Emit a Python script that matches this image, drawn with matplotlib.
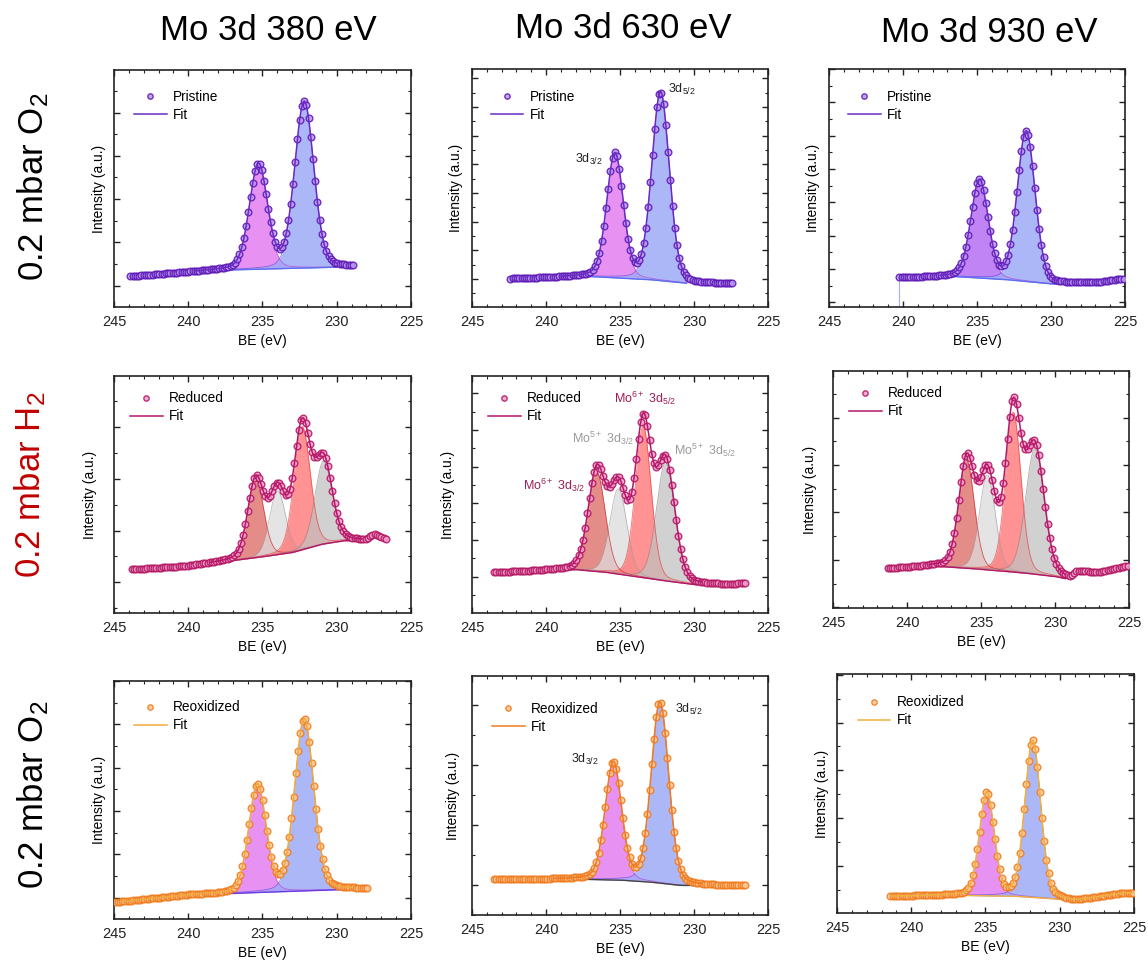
import numpy as np
import matplotlib
matplotlib.use("Agg")
import matplotlib.pyplot as plt
from matplotlib.ticker import FixedLocator, MultipleLocator

plt.rcParams['font.family'] = ['Liberation Sans', 'DejaVu Sans']
plt.rcParams['mathtext.fontset'] = 'custom'
plt.rcParams['mathtext.rm'] = 'Liberation Sans'
plt.rcParams['mathtext.it'] = 'Liberation Sans:italic'

# ---- data (intensity in fraction of axes height, BE in eV) ----
col_titles = ['Mo 3d 380 eV', 'Mo 3d 630 eV', 'Mo 3d 930 eV']
row_titles = ['0.2 mbar O$_2$', '0.2 mbar H$_2$', '0.2 mbar O$_2$']
row_title_colors = ['black', '#c00000', 'black']
states = ['Pristine', 'Reduced', 'Reoxidized']

# panel order: row by row (380, 630, 930 eV)
data_range = [(243.9, 228.8), (242.4, 227.4), (240.25, 225.1),
              (243.8, 226.7), (243.5, 226.5), (241.3, 225.1),
              (244.9, 227.85), (243.5, 226.5), (241.4, 225.05)]

fit_range = [(239.5, 230.0), (239.0, 230.5), (237.5, 229.5),
             (238.5, 228.3), (238.5, 229.5), (238.5, 229.3),
             (244.5, 229.0), (239.5, 229.5), (241.4, 225.05)]

bg_x = [[243.9, 238, 230, 228.8],
        [242.4, 237, 233, 230, 227.4],
        [240.25, 236.5, 233, 230, 227, 225.1],
        [243.8, 240, 238, 235, 233, 231, 229.5, 228, 227.5, 226.7],
        [243.5, 240, 238, 236, 234, 232, 230, 228, 226.5],
        [241.3, 238, 236, 234, 232, 230, 229, 228.5, 227, 225.1],
        [244.9, 240, 236, 230, 227.85],
        [243.5, 238, 235, 233, 231, 228, 226.5],
        [241.4, 237, 233, 230, 229, 228, 226, 225.05]]
bg_y = [[0.129, 0.155, 0.168, 0.171],
        [0.118, 0.128, 0.115, 0.097, 0.097],
        [0.122, 0.128, 0.115, 0.097, 0.100, 0.118],
        [0.183, 0.197, 0.213, 0.237, 0.255, 0.29, 0.305, 0.305, 0.33, 0.31],
        [0.17, 0.178, 0.183, 0.172, 0.154, 0.136, 0.12, 0.118, 0.122],
        [0.165, 0.176, 0.168, 0.158, 0.147, 0.133, 0.12, 0.148, 0.147, 0.175],
        [0.07, 0.10, 0.11, 0.123, 0.127],
        [0.148, 0.150, 0.146, 0.138, 0.124, 0.122, 0.124],
        [0.07, 0.074, 0.07, 0.058, 0.05, 0.06, 0.08, 0.084]]

peak_c = [[235.27, 232.19], [235.34, 232.26], [234.83, 231.68],
          [235.45, 233.99, 232.33, 230.89],
          [236.57, 235.11, 233.43, 231.92],
          [235.97, 234.57, 232.82, 231.36],
          [235.34, 232.19], [235.45, 232.30], [234.91, 231.82]]
peak_h = [[0.44, 0.70], [0.52, 0.79], [0.41, 0.63],
          [0.33, 0.27, 0.52, 0.35],
          [0.42, 0.36, 0.64, 0.50],
          [0.455, 0.40, 0.675, 0.53],
          [0.45, 0.72], [0.49, 0.755], [0.43, 0.655]]
peak_w = [[1.45, 1.52], [1.32, 1.40], [1.38, 1.42],
          [1.26, 1.26, 1.30, 1.37],
          [1.36, 1.36, 1.26, 1.45],
          [1.24, 1.26, 1.23, 1.47],
          [1.38, 1.52], [1.32, 1.40], [1.18, 1.26]]

# y tick start / step (axes fraction)
ytick_start = [0.090, 0.1176, 0.02, 0.129, 0.154, 0.203, 0.0896, 0.1255, 0.197]
ytick_step = [0.1826, 0.1204, 0.140, 0.219, 0.1545, 0.200, 0.182, 0.251, 0.200]

# ---- layout (pixels) ----
W, H = 1148, 961
boxes = [(114, 411, 70, 307), (472, 768, 69, 307), (829, 1125, 69, 307),
         (114, 411, 376, 613), (472, 768, 376, 613), (833, 1129, 371, 608),
         (114, 411, 681, 919), (472, 768, 676, 915), (837, 1134, 674, 913)]
ylab_off = [15, 16, 16, 24, 24, 23, 15, 19, 15]
leg_pos = [(0.067, 0.917), (0.063, 0.912), (0.064, 0.913),
           (0.054, 0.935), (0.054, 0.935), (0.054, 0.935),
           (0.067, 0.919), (0.068, 0.893), (0.070, 0.911)]

# ---- styles ----
mk_edge = ['#5a14b4', '#b0125f', '#f07818']
mk_face = ['#b996ee', '#f39ccb', '#fcc898']
fit_col = ['#6a2bc4', '#6a2bc4', '#6a2bc4', '#b5176a', '#b5176a', '#b5176a',
           '#f2a93b', '#f07a1e', '#efb03e']
bg_col = ['#5a6ef0', '#5a6ef0', '#5a6ef0', '#b5176a', '#b5176a', '#b5176a',
          '#6a3ae0', '#444444', '#efb03e']
two_fill = ['#e37ff2', '#9eabf6']
two_edge = ['#b040d0', '#5a4fd8']
two_fill_930 = ['#b56ff3', '#9eabf6']
four_fill = ['#dc6660', '#dcdcdc', '#ff6e6e', '#c2c2c2']
four_edge = ['#d02222', '#a0a0a0', '#e83a3a', '#8a8a8a']


def gl(x, c, h, w, m=0.18):
    t = (x - c) / w
    return h * ((1 - m) * np.exp(-4 * np.log(2) * t ** 2) + m / (1 + 4 * t ** 2))


fig = plt.figure(figsize=(W / 100, H / 100), dpi=100)

for i in range(9):
    r, c = divmod(i, 3)
    l, rr, t, b = boxes[i]
    ax = fig.add_axes([l / W, 1 - b / H, (rr - l) / W, (b - t) / H])
    bx = np.array(bg_x[i][::-1])
    by = np.array(bg_y[i][::-1])

    # measured points
    xd = np.arange(data_range[i][0], data_range[i][1] - 0.01, -0.15)
    yd = np.interp(xd, bx, by)
    for k in range(len(peak_c[i])):
        yd = yd + gl(xd, peak_c[i][k], peak_h[i][k], peak_w[i][k])

    # fit components
    xf = np.linspace(fit_range[i][0], fit_range[i][1], 400)
    bgf = np.interp(xf, bx, by)
    total = bgf.copy()
    npk = len(peak_c[i])
    if npk == 2:
        fills = two_fill_930 if c == 2 and r == 0 else two_fill
        edges = two_edge
    else:
        fills = four_fill
        edges = four_edge
    for k in range(npk):
        comp = gl(xf, peak_c[i][k], peak_h[i][k], peak_w[i][k])
        total = total + comp
        ax.fill_between(xf, bgf, bgf + comp, color=fills[k],
                        alpha=0.75 if npk == 4 else 0.85, lw=0, zorder=2)
        ax.plot(xf, bgf + comp, color=edges[k], lw=0.6,
                alpha=0.7, zorder=3)
    ax.plot(xf, bgf, color=bg_col[i], lw=1.0, zorder=3)

    if i == 2:
        ax.vlines([xd[0], xd[-1]], 0, [yd[0], yd[-1]],
                  color='#9fb2f7', lw=0.8, zorder=1)

    ax.plot(xd, yd, ls='none', marker='o', ms=4.8, mew=1.0,
            mec=mk_edge[r], mfc=mk_face[r], alpha=0.85, zorder=4,
            label=states[r])
    ax.plot(xf, total, color=fit_col[i], lw=1.1, zorder=5, label='Fit')

    ax.set_xlim(245, 225)
    ax.set_ylim(0, 1)
    ax.xaxis.set_major_locator(MultipleLocator(5))
    ax.xaxis.set_minor_locator(MultipleLocator(1))
    s0, st = ytick_start[i], ytick_step[i]
    majors = [s0 + st * k for k in range(-10, 10) if 0 <= s0 + st * k <= 1]
    minors = [s0 + st * (k + 0.5) for k in range(-10, 10)
              if 0 <= s0 + st * (k + 0.5) <= 1]
    ax.yaxis.set_major_locator(FixedLocator(majors))
    ax.yaxis.set_minor_locator(FixedLocator(minors))
    ax.tick_params(which='both', direction='in', top=True, right=True,
                   labelleft=False, labelsize=10.5, pad=5.5, colors='#222222')
    ax.tick_params(which='major', length=4.5, width=1.0)
    ax.tick_params(which='minor', length=2.5, width=0.8)
    for sp in ax.spines.values():
        sp.set_linewidth(1.2)
        sp.set_color('#222222')

    ax.set_xlabel('BE (eV)', fontsize=10)
    ax.xaxis.set_label_coords(0.5, -27 / (b - t))
    ax.set_ylabel('Intensity (a.u.)', fontsize=10)
    ax.yaxis.set_label_coords(-ylab_off[i] / (rr - l), 0.5)
    ax.yaxis.label.set_va('center')

    ax.legend(loc='upper left', bbox_to_anchor=leg_pos[i], frameon=False,
              fontsize=9.8, borderpad=0, borderaxespad=0, handlelength=2.4,
              handletextpad=0.45, labelspacing=0.3, markerscale=0.8)

    if i in (1, 7):
        if i == 1:
            p1, p2 = (237.07, 0.622), (230.84, 0.916)
        else:
            p1, p2 = (237.36, 0.651), (230.33, 0.862)
        ax.text(p1[0], p1[1], r'3d$_{\mathrm{3/2}}$', fontsize=9,
                ha='center', va='center', color='#222222')
        ax.text(p2[0], p2[1], r'3d$_{\mathrm{5/2}}$', fontsize=9,
                ha='center', va='center', color='#222222')
    if i == 4:
        ax.text(233.3, 0.906, r'Mo$^{\mathrm{6+}}$ 3d$_{\mathrm{5/2}}$',
                fontsize=9, ha='center', va='center', color='#9e1d54')
        ax.text(239.43, 0.538, r'Mo$^{\mathrm{6+}}$ 3d$_{\mathrm{3/2}}$',
                fontsize=9, ha='center', va='center', color='#9e1d54')
        ax.text(236.17, 0.737, r'Mo$^{\mathrm{5+}}$ 3d$_{\mathrm{3/2}}$',
                fontsize=9, ha='center', va='center', color='#9a9a9a')
        ax.text(229.27, 0.688, r'Mo$^{\mathrm{5+}}$ 3d$_{\mathrm{5/2}}$',
                fontsize=9, ha='center', va='center', color='#9a9a9a')

# column and row titles
col_x = [268, 623, 989]
col_y = [31, 28, 33]
for k in range(3):
    fig.text(col_x[k] / W, 1 - col_y[k] / H, col_titles[k], fontsize=25,
             ha='center', va='center')
row_x = [33, 30, 33]
row_y = [187, 485, 795]
for k in range(3):
    fig.text(row_x[k] / W, 1 - row_y[k] / H, row_titles[k], fontsize=25,
             rotation=90, ha='center', va='center', color=row_title_colors[k])

fig.savefig('out.png', dpi=100)
